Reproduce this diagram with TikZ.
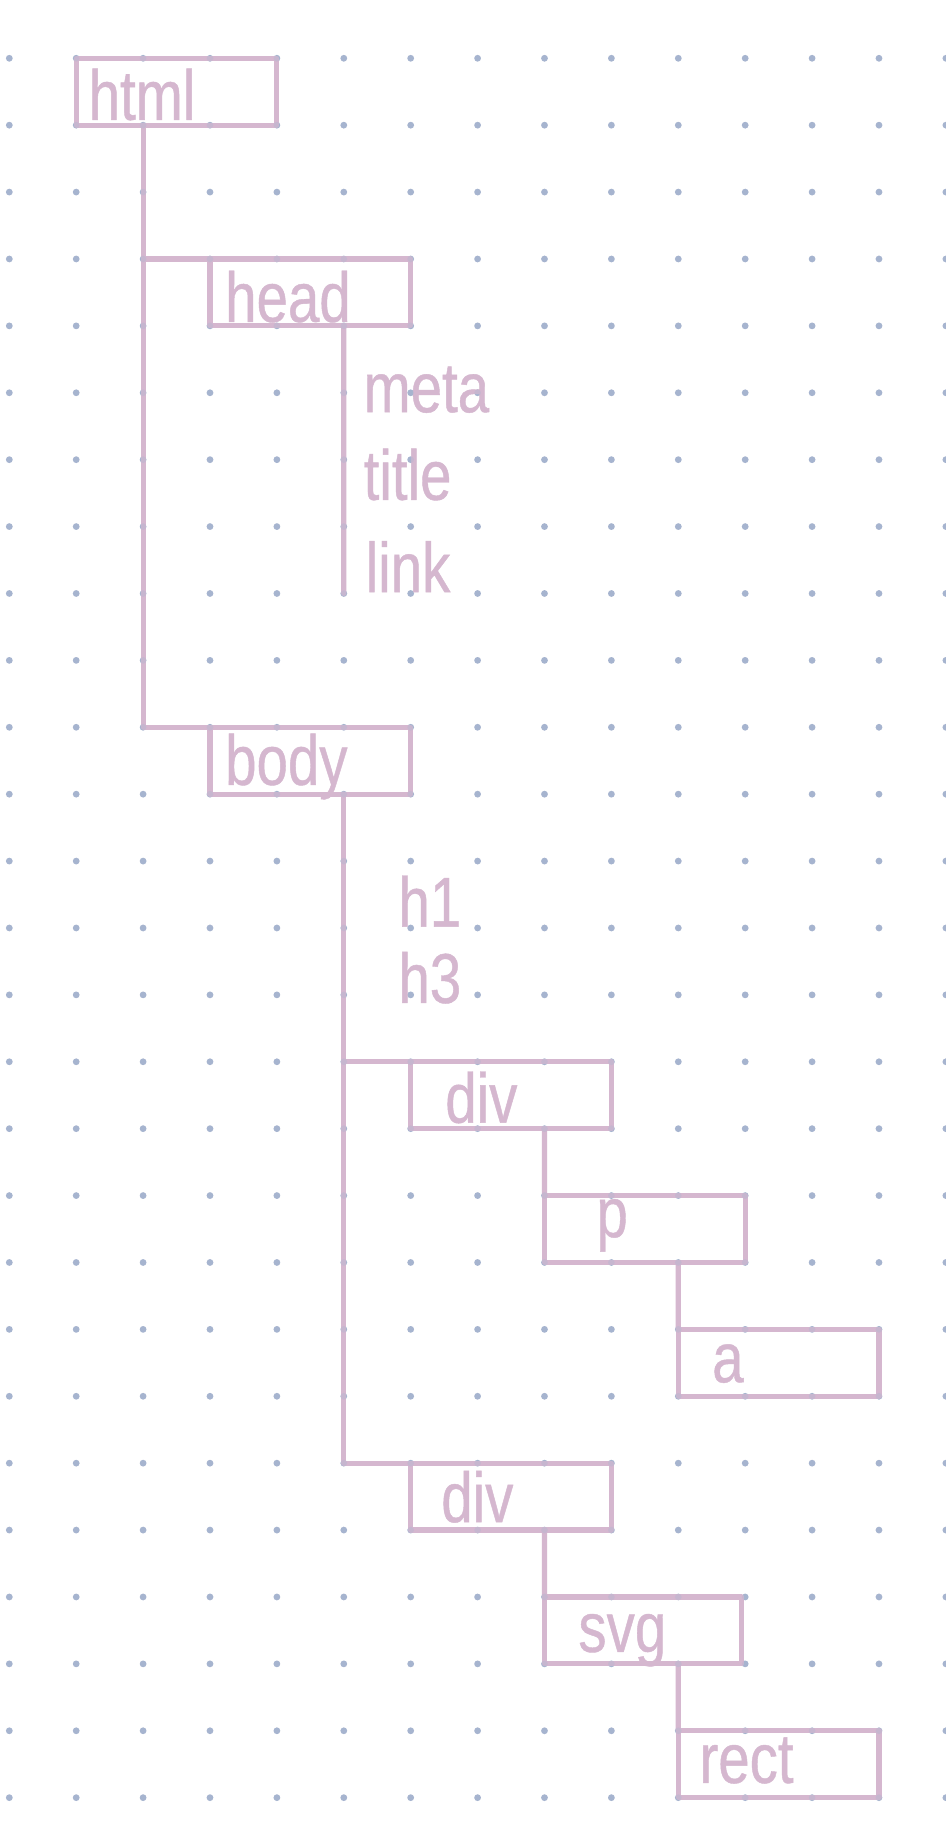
\documentclass[tikz,border=0pt]{standalone}
\usepackage{fontspec}
\newfontfamily\hand[FakeStretch=0.8,FakeBold=0.6]{Liberation Sans}
\definecolor{ink}{RGB}{213,183,207}
\definecolor{dotc}{RGB}{166,180,207}
\begin{document}
\begin{tikzpicture}[
  box/.style={draw=ink, line width=2.2pt, line join=round, rectangle, minimum width=3cm, minimum height=1cm, inner sep=0pt, outer sep=0pt, anchor=north west},
  wire/.style={draw=ink, line width=2.2pt, line cap=round, line join=round},
  lbl/.style={text=ink, font=\hand\fontsize{30}{30}\selectfont, inner sep=0pt, anchor=base west},
  griddot/.style={fill=dotc}
]
\fill[white] (-0.139,-26.648) rectangle (13.987,0.871);
\useasboundingbox (-0.139,-26.648) rectangle (13.987,0.871);
\foreach \i in {0,...,14} \foreach \j in {0,...,26} \fill[griddot] (\i,-\j) circle (0.05);

% boxes
\node[box] (html) at (1,0) {};
\node[box] (head) at (3,-3) {};
\node[box] (body) at (3,-10) {};
\node[box] (div1) at (6,-15) {};
\node[box] (p) at (8,-17) {};
\node[box] (a) at (10,-19) {};
\node[box] (div2) at (6,-21) {};
\node[box, minimum width=2.95cm] (svg) at (8,-23) {};
\node[box] (rect) at (10,-25) {};
\coordinate (headend) at (5,-8);

% connectors
\draw[wire] ([xshift=1cm]html.south west) |- (body.north west);
\draw[wire] ([xshift=1cm]html.south west) |- (head.north west);
\draw[wire] ([xshift=2cm]head.south west) -- (headend);
\draw[wire] ([xshift=2cm]body.south west) |- (div2.north west);
\draw[wire] ([xshift=2cm]body.south west) |- (div1.north west);
\draw[wire] ([xshift=2cm]div1.south west) -- (p.north west);
\draw[wire] ([xshift=2cm]p.south west) -- (a.north west);
\draw[wire] ([xshift=2cm]div2.south west) -- (svg.north west);
\draw[wire] ([xshift=2cm]svg.south west) -- (rect.north west);

% labels
\node[lbl] (thtml) at (1.18,-0.92) {html};
\node[lbl] (thead) at (3.22,-3.94) {head};
\node[lbl] (tmeta) at (5.29,-5.29) {meta};
\node[lbl] (ttitle) at (5.29,-6.6) {title};
\node[lbl] (tlink) at (5.32,-7.98) {link};
\node[lbl] (tbody) at (3.22,-10.86) {body};
\node[lbl] (th1) at (5.81,-12.98) {h1};
\node[lbl] (th3) at (5.81,-14.12) {h3};
\node[lbl] (tdiv1) at (6.51,-15.91) {div};
\node[lbl] (tp) at (8.77,-17.62) {p};
\node[lbl] (ta) at (10.5,-19.79) {a};
\node[lbl] (tdiv2) at (6.45,-21.88) {div};
\node[lbl] (tsvg) at (8.5,-23.82) {svg};
\node[lbl] (trect) at (10.31,-25.78) {rect};

% dots faintly visible through the ink
\foreach \i in {0,...,14} \foreach \j in {0,...,26} \fill[griddot, opacity=0.3] (\i,-\j) circle (0.05);
\end{tikzpicture}
\end{document}
